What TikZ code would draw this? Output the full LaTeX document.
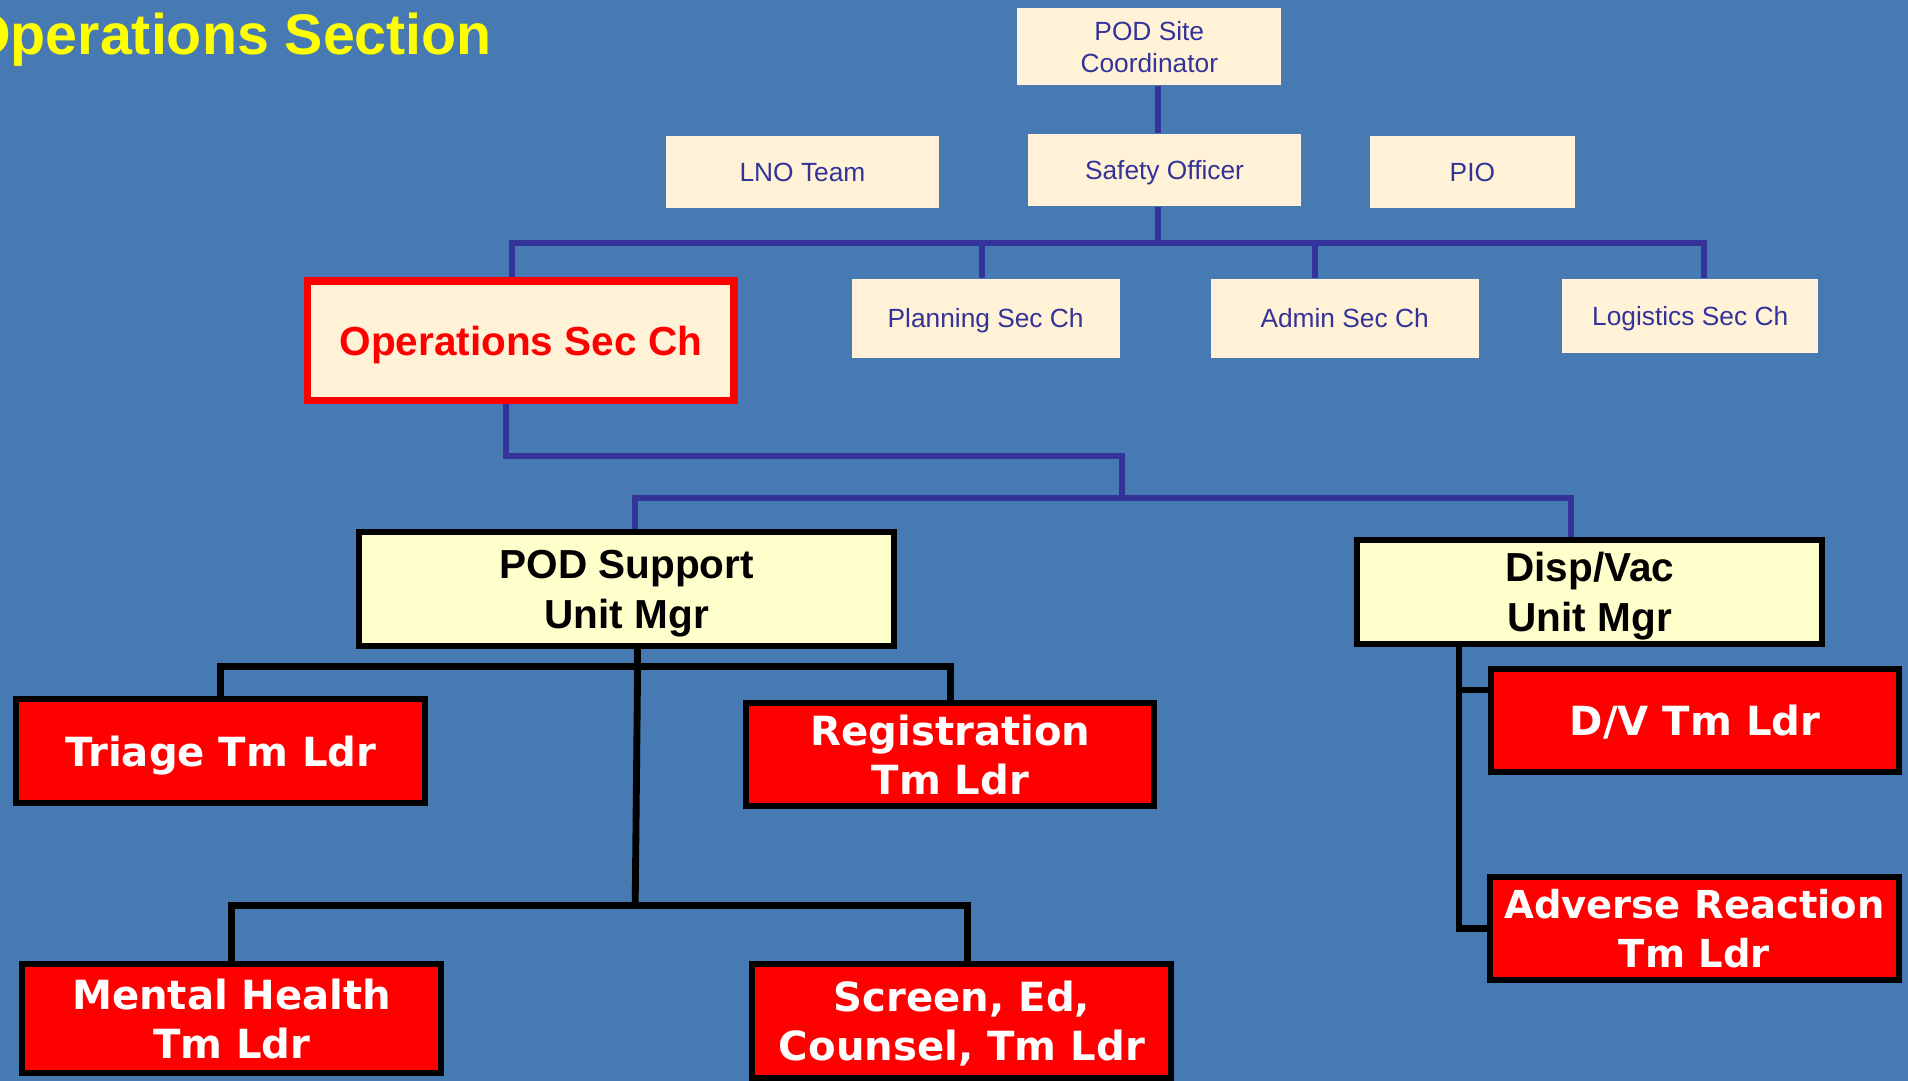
\documentclass[tikz,border=0pt]{standalone}
\usepackage{fontspec}
\setmainfont{Liberation Sans}
\newfontfamily\verdana{DejaVu Sans}
\usetikzlibrary{calc}
\definecolor{slide}{RGB}{71,121,178}
\definecolor{navy}{RGB}{51,51,153}
\definecolor{cream}{RGB}{255,242,214}
\definecolor{paleyellow}{RGB}{255,255,204}
\definecolor{titleyellow}{RGB}{255,255,0}

\begin{document}
\begin{tikzpicture}[x=0.01cm,y=-0.01cm]
    % one unit is one pixel of the slide, y runs downwards
    \tikzstyle{staff}=[rectangle,fill=cream,text=navy,inner sep=0pt,text depth=0pt,align=center,
    font=\fontsize{6.15}{7.4}\selectfont]
    \tikzstyle{chief}=[rectangle,fill=cream,draw=red,line width=1.7pt,text=red,inner sep=0pt,
    text depth=0pt,font=\bfseries\fontsize{9.47}{11.7}\selectfont]
    \tikzstyle{unit}=[rectangle,fill=paleyellow,draw=black,line width=1.4pt,inner sep=0pt,
    text depth=0pt,align=center,font=\bfseries\fontsize{9.47}{11.7}\selectfont]
    \tikzstyle{team}=[rectangle,fill=red,draw=black,line width=1.4pt,text=white,inner sep=0pt,
    text depth=0pt,align=center,font=\verdana\bfseries\fontsize{9.39}{11.4}\selectfont]
    \tikzstyle{navyline}=[draw=navy,line width=1.4pt]
    \tikzstyle{blackline}=[draw=black,line width=1.6pt]

    \useasboundingbox (0,0) rectangle (1568,888);
    \fill[slide] (0,0) rectangle (1568,888);
    \node [anchor=base east,inner sep=0pt,text=titleyellow,font=\bfseries\fontsize{13.4}{16}\selectfont] (title) at (405,45) {Operations Section};

    \node [staff,minimum width=2.17cm,minimum height=0.63cm] (site) at (944.5,38.5) {POD Site\\Coordinator};
    \node [staff,minimum width=2.25cm,minimum height=0.59cm] (lno) at (659.5,141.5) {LNO Team};
    \node [staff,minimum width=2.24cm,minimum height=0.59cm] (safety) at (957,139.5) {Safety Officer};
    \node [staff,minimum width=1.68cm,minimum height=0.59cm] (pio) at (1210,141.5) {PIO};
    \node [chief,minimum width=3.50cm,minimum height=0.98cm] (ops) at (428,280) {Operations Sec Ch};
    \node [staff,minimum width=2.20cm,minimum height=0.65cm] (plan) at (810,261.5) {Planning Sec Ch};
    \node [staff,minimum width=2.20cm,minimum height=0.65cm] (admin) at (1105,261.5) {Admin Sec Ch};
    \node [staff,minimum width=2.10cm,minimum height=0.61cm] (logi) at (1389,259.5) {Logistics Sec Ch};

    \node [unit,minimum width=4.39cm,minimum height=0.93cm] (podsup) at (515,484) {POD Support\\Unit Mgr};
    \node [unit,minimum width=3.82cm,minimum height=0.86cm] (disp) at (1306.5,486.5) {Disp/Vac\\Unit Mgr};

    \node [team,minimum width=3.36cm,minimum height=0.85cm] (triage) at (181.5,617) {Triage Tm Ldr};
    \node [team,minimum width=3.35cm,minimum height=0.85cm] (regis) at (781,620) {Registration\\Tm Ldr};
    \node [team,minimum width=3.35cm,minimum height=0.85cm] (dv) at (1393,592) {D/V Tm Ldr};
    \node [team,minimum width=3.44cm,minimum height=0.89cm] (mental) at (190.5,837) {Mental Health\\Tm Ldr};
    \node [team,minimum width=3.44cm,minimum height=0.93cm] (screen) at (790.5,839) {Screen, Ed,\\Counsel, Tm Ldr};
    \node [team,minimum width=3.36cm,minimum height=0.85cm,
    font=\verdana\bfseries\fontsize{9.0}{11.6}\selectfont] (adverse) at (1392.5,763) {Adverse Reaction\\Tm Ldr};

    \coordinate (topbus) at (952,200);
    \coordinate (opsbend) at (922,375);
    \coordinate (midbus) at (922,409);
    \coordinate (podbus) at (524,548);
    \coordinate (lowbus) at (522,744);

    \path[navyline] (site.south -| topbus) -- (safety.north -| topbus);
    \path[navyline] (safety.south -| topbus) -- (topbus);
    \path[navyline] ($(ops.north)+(-7,0)$) |- (topbus) -| ($(logi.north)+(11,0)$);
    \path[navyline] ($(plan.north)+(-3,0)$) -- ($(plan.north |- topbus)+(-3,0)$);
    \path[navyline] ($(admin.north)+(-24,0)$) -- ($(admin.north |- topbus)+(-24,0)$);

    \path[navyline] ($(ops.south)+(-12,0)$) |- (opsbend) -- (midbus);
    \path[navyline] ($(podsup.north)+(7,0)$) |- (midbus) -| ($(disp.north)+(-15.5,0)$);

    \path[blackline] ($(podsup.south)+(9,0)$) -- (podbus);
    \path[blackline] (triage.north) |- (podbus) -| (regis.north);
    \path[blackline] (podbus) -- (lowbus);
    \path[blackline] (mental.north) |- (lowbus) -| ($(screen.north)+(4.5,0)$);
    \path[blackline] ($(disp.south)+(-107.5,0)$) |- (adverse.west);
    \path[blackline] ($(dv.west)+(0,-25)$) -- ($(disp.south |- dv.west)+(-107.5,-25)$);

  \end{tikzpicture}
\end{document}
